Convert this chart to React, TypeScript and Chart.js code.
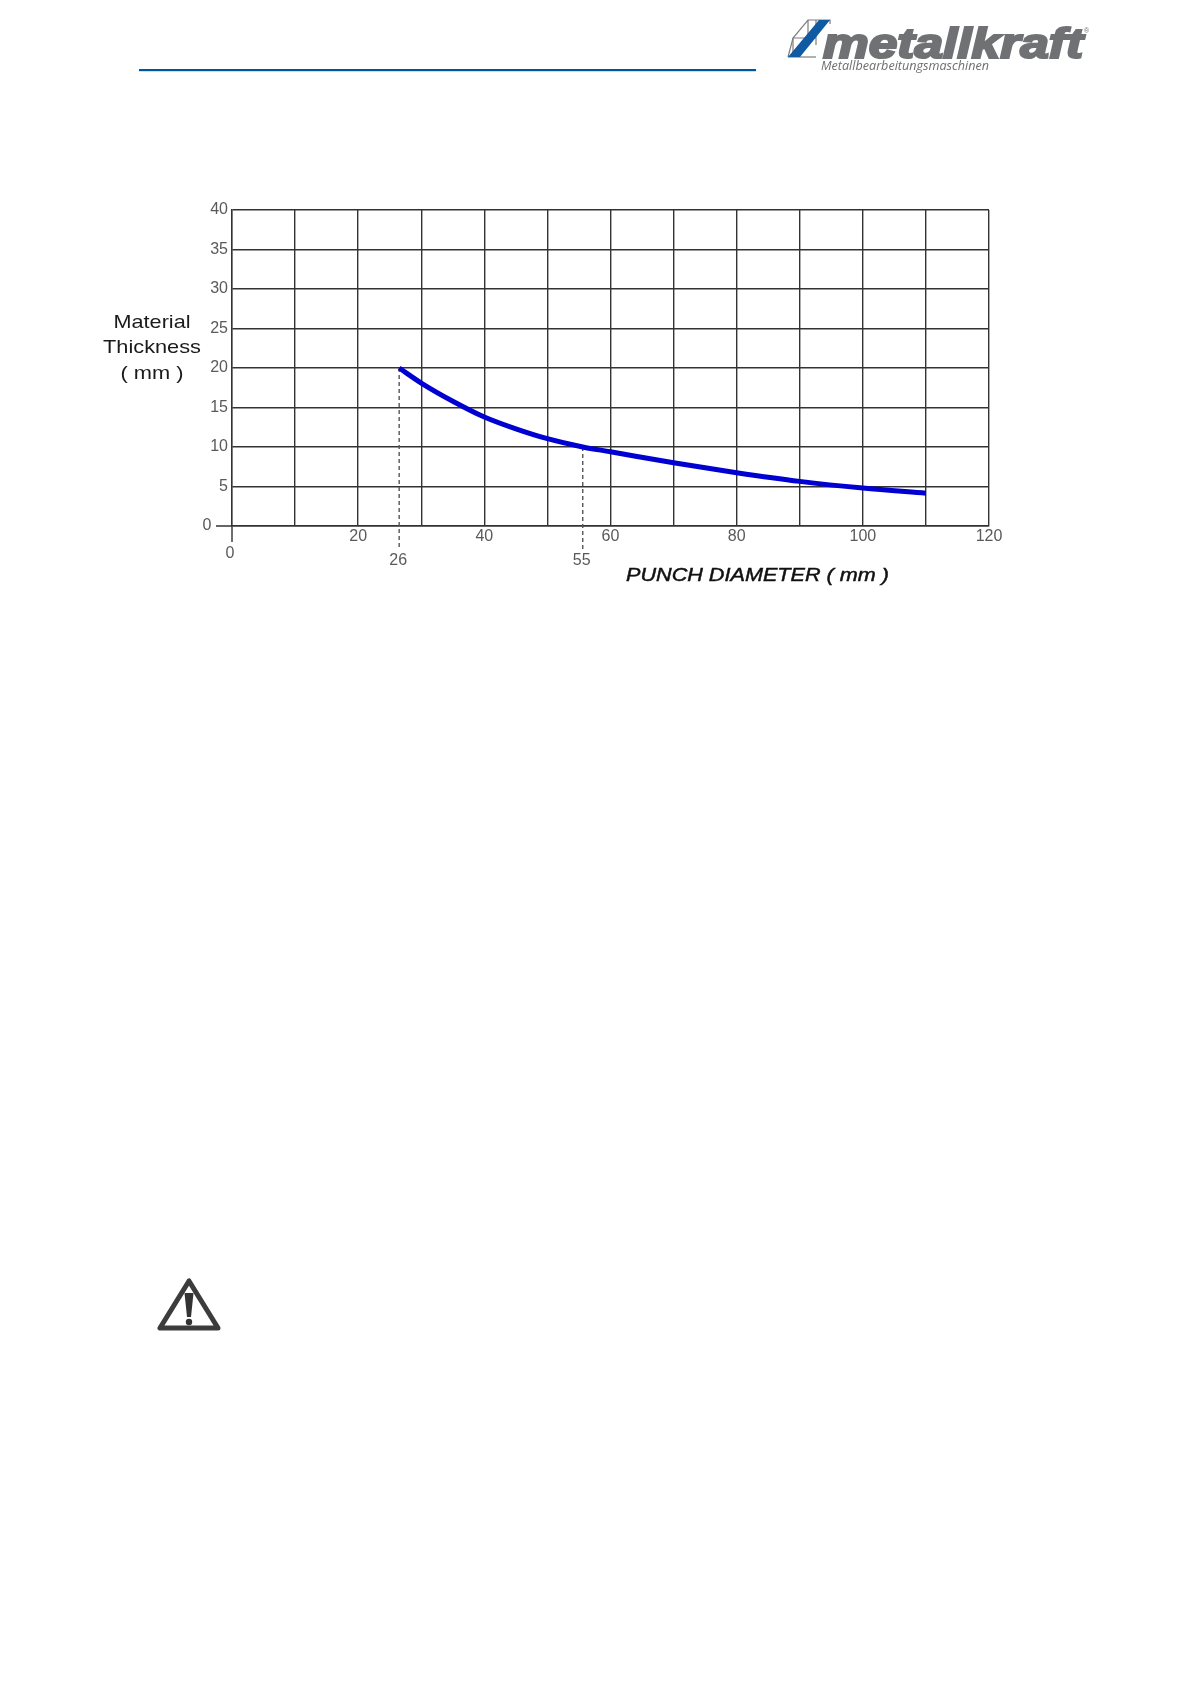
import React, { useEffect, useRef } from "react";
import { Chart, registerables } from "chart.js";

Chart.register(...registerables);

const punchDiameter = [26.5, 30, 35, 40, 45, 50, 55.6, 60, 70, 80, 90, 100, 110];
const materialThickness = [20, 18.1, 15.8, 13.8, 12.3, 11.05, 10, 9.4, 8, 6.75, 5.65, 4.8, 4.15];
const markerDiameter = [26.5, 55.6];
const markerThickness = [20, 10];
const markerLabels = ["26", "55"];
const markerBottom = -3;
const xLabeledTicks = [20, 40, 60, 80, 100, 120];
const yTitleLines = ["Material", "Thickness", "( mm )"];
const xTitle = "PUNCH DIAMETER ( mm )";
const logoName = "metallkraft";
const logoTagline = "Metallbearbeitungsmaschinen";

const FONT = '"Liberation Sans", Arial, sans-serif';
const TICK = "#5a5a5a";
const GRID = "#333333";

const overlayPlugin = {
  id: "overlay",
  afterDatasetsDraw(chart: any) {
    const { ctx, scales } = chart;
    const x0 = scales.x.getPixelForValue(0);
    const y0 = scales.y.getPixelForValue(0);
    ctx.save();
    ctx.strokeStyle = GRID;
    ctx.lineWidth = 1.4;
    ctx.beginPath();
    ctx.moveTo(x0 - 16, y0);
    ctx.lineTo(x0, y0);
    ctx.moveTo(x0, y0);
    ctx.lineTo(x0, y0 + 16);
    ctx.stroke();
    ctx.fillStyle = TICK;
    ctx.font = `16px ${FONT}`;
    ctx.textAlign = "center";
    ctx.textBaseline = "middle";
    ctx.fillText("0", x0 - 25, y0);
    ctx.fillText("0", x0 - 2, y0 + 28);
    markerLabels.forEach((t, i) => {
      ctx.fillText(t, scales.x.getPixelForValue(markerDiameter[i]) - 1, y0 + 35);
    });
    ctx.restore();
  },
};

export default function App() {
  const ref = useRef<HTMLCanvasElement>(null);
  useEffect(() => {
    const dashSets = markerDiameter.map((d, i) => ({
      data: [
        { x: d, y: markerThickness[i] },
        { x: d, y: markerBottom },
      ],
      borderColor: "#555555",
      borderWidth: 1.4,
      borderDash: [4, 3],
      pointRadius: 0,
      clip: false as any,
      order: 2,
    }));
    const chart = new Chart(ref.current!, {
      type: "line",
      data: {
        datasets: [
          {
            data: punchDiameter.map((x, i) => ({ x, y: materialThickness[i] })),
            borderColor: "#0000d2",
            borderWidth: 5,
            pointRadius: 0,
            cubicInterpolationMode: "monotone",
            order: 1,
          },
          ...dashSets,
        ] as any,
      },
      options: {
        animation: false,
        responsive: false,
        devicePixelRatio: 1,
        layout: { padding: { top: 210, right: 203, left: 0, bottom: 0 } },
        plugins: { legend: { display: false }, tooltip: { enabled: false } },
        scales: {
          x: {
            type: "linear",
            min: 0,
            max: 120,
            afterFit: (s: any) => {
              s.height = 1159;
            },
            grid: { color: GRID, lineWidth: 1.4, drawTicks: false },
            border: { color: GRID, width: 1.4 },
            ticks: {
              stepSize: 10,
              autoSkip: false,
              maxRotation: 0,
              padding: 1,
              color: TICK,
              font: { family: FONT, size: 16 },
              callback: (v: any) => (xLabeledTicks.includes(Number(v)) ? String(v) : ""),
            },
          },
          y: {
            type: "linear",
            min: 0,
            max: 40,
            afterFit: (s: any) => {
              s.width = 232;
            },
            grid: { color: GRID, lineWidth: 1.4, drawTicks: false },
            border: { color: GRID, width: 1.4 },
            ticks: {
              stepSize: 5,
              padding: 4,
              color: TICK,
              font: { family: FONT, size: 16 },
              callback: (v: any) => (Number(v) === 0 ? "" : String(v)),
            },
          },
        },
      },
      plugins: [overlayPlugin],
    });
    return () => chart.destroy();
  }, []);

  const titleY = [328, 353, 379];
  const titleW = [77, 98, 63];

  return (
    <div style={{ position: "absolute", left: 0, top: 0, width: 1192, height: 1685, overflow: "hidden", background: "#fff" }}>
      <canvas ref={ref} width={1192} height={1685} style={{ position: "absolute", left: 0, top: 0 }} />
      <svg width={1192} height={1685} style={{ position: "absolute", left: 0, top: 0 }}>
        <rect x={139} y={69} width={617} height={2.2} fill="#00569b" />
        <g fill="none" stroke="#7d7d7d" strokeWidth={1.2}>
          <path d="M788 57 L793 38 L808 20 L830 20 L830 24" />
          <path d="M793 38 L793 57 M793 38 L816 38 L816 20 M808 20 L808 38 M816 38 L816 45" />
          <path d="M788 57 L816 57" />
        </g>
        <polygon points="788,57 800,57 830,20 819,20" fill="#0f5aa3" />
        <text
          x={823}
          y={58}
          fontFamily={FONT}
          fontWeight="bold"
          fontStyle="italic"
          fontSize={42}
          fill="#707174"
          stroke="#707174"
          strokeWidth={2.2}
          textLength={260}
          lengthAdjust="spacingAndGlyphs"
        >
          {logoName}
        </text>
        <text x={1084} y={33} fontFamily={FONT} fontSize={7} fill="#707174">®</text>
        <text
          x={821}
          y={70}
          fontFamily={'"Open Sans", sans-serif'}
          fontStyle="italic"
          fontWeight={500}
          fontSize={12}
          fill="#6d6e71"
          textLength={168}
          lengthAdjust="spacingAndGlyphs"
        >
          {logoTagline}
        </text>
        {yTitleLines.map((t, i) => (
          <text
            key={t}
            x={152 - titleW[i] / 2}
            y={titleY[i]}
            fontFamily={FONT}
            fontSize={19}
            fill="#1a1a1a"
            textLength={titleW[i]}
            lengthAdjust="spacingAndGlyphs"
          >
            {t}
          </text>
        ))}
        <text
          x={626}
          y={581}
          fontFamily={FONT}
          fontStyle="italic"
          fontSize={18}
          fill="#111"
          stroke="#111"
          strokeWidth={0.45}
          textLength={263}
          lengthAdjust="spacingAndGlyphs"
        >
          {xTitle}
        </text>
        <path d="M189 1281 L160 1328 L218 1328 Z" fill="none" stroke="#3c3c3c" strokeWidth={5} strokeLinejoin="round" />
        <path d="M184.5 1293 L193.5 1293 L191 1317 L187 1317 Z" fill="#333" />
        <circle cx={189} cy={1322} r={3.2} fill="#333" />
      </svg>
    </div>
  );
}
